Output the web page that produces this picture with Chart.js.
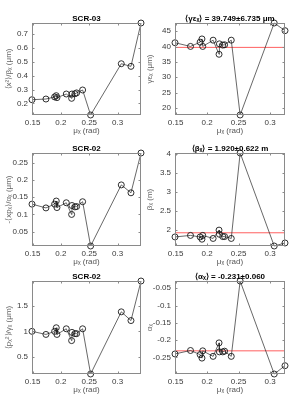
<!DOCTYPE html>
<html>
<head>
<meta charset="utf-8">
<script src="https://cdn.jsdelivr.net/npm/chart.js@4.4.0/dist/chart.umd.min.js"></script>
<style>
  body { margin: 0; background: #fff; width: 293px; height: 404px; position: relative; overflow: hidden; }
  canvas { position: absolute; }
</style>
</head>
<body>
<canvas id="scr03Emit" width="146" height="136" style="left:0px;top:0px"></canvas>
<canvas id="gammaEps" width="150" height="136" style="left:143px;top:0px"></canvas>
<canvas id="scr02Xp" width="146" height="137" style="left:0px;top:130px"></canvas>
<canvas id="betaX" width="150" height="137" style="left:143px;top:130px"></canvas>
<canvas id="scr02P" width="146" height="137" style="left:0px;top:258px"></canvas>
<canvas id="alphaX" width="150" height="137" style="left:143px;top:258px"></canvas>
<script>
// phase advance (rad), same scan points for every panel
let muX = [0.149, 0.1736, 0.1889, 0.1918, 0.193, 0.2095, 0.2189, 0.2195, 0.2248, 0.2277, 0.2383, 0.2524, 0.3065, 0.3236, 0.3413]

// left column, one value per muX
let emitScr03 = [0.227, 0.232, 0.247, 0.256, 0.242, 0.268, 0.237, 0.268, 0.270, 0.276, 0.297, 0.117, 0.486, 0.467, 0.779]
let xpScr02 = [0.130, 0.119, 0.130, 0.139, 0.120, 0.134, 0.100, 0.126, 0.122, 0.123, 0.137, 0.008, 0.186, 0.163, 0.279]
let pScr02 = [1.00, 0.94, 1.00, 1.07, 0.94, 1.05, 0.82, 0.98, 0.955, 0.955, 1.05, 0.17, 1.38, 1.21, 1.98]

// right column, first 14 points only
let gammaEps = [41.26, 40.06, 41.45, 42.5, 40.06, 42.1, 37.5, 40.9, 40.5, 40.6, 42.1, 17.7, 47.7, 45.2]
let betaX = [1.81, 1.85, 1.81, 1.75, 1.85, 1.77, 1.99, 1.88, 1.82, 1.82, 1.77, 4.03, 1.57, 1.65]
let alphaX = [-0.240, -0.230, -0.242, -0.252, -0.231, -0.247, -0.208, -0.234, -0.234, -0.232, -0.247, -0.029, -0.298, -0.274]

let gammaMean = 39.749
let betaMean = 1.920
let alphaMean = -0.231

// tick labels
let xTicks = [0.15, 0.2, 0.25, 0.3]
let emitTicks = [0.2, 0.3, 0.4, 0.5, 0.6, 0.7]
let xpTicks = [0.05, 0.1, 0.15, 0.2, 0.25]
let pTicks = [0.5, 1, 1.5]
let gammaTicks = [20, 25, 30, 35, 40, 45]
let betaTicks = [2, 2.5, 3, 3.5, 4]
let alphaTicks = [-0.25, -0.2, -0.15, -0.1, -0.05]

Chart.defaults.font.family = "'Liberation Sans', Arial, sans-serif"
Chart.defaults.font.size = 8
Chart.defaults.color = '#333'

// matlab style box with inward ticks, title centred over the axes
const boxPlugin = {
    id: 'box',
    afterDraw(chart, args, opts) {
        const ctx = chart.ctx
        const a = chart.chartArea
        const l = Math.round(a.left) + 0.5, r = Math.round(a.right) - 0.5
        const t = Math.round(a.top) + 0.5, b = Math.round(a.bottom) - 0.5
        ctx.save()
        ctx.strokeStyle = '#8a8a8a'
        ctx.lineWidth = 1
        ctx.strokeRect(l, t, r - l, b - t)
        ctx.beginPath()
        chart.scales.x.ticks.forEach(function(tk) {
            let px = Math.round(chart.scales.x.getPixelForValue(tk.value)) + 0.5
            ctx.moveTo(px, b); ctx.lineTo(px, b - 2)
            ctx.moveTo(px, t); ctx.lineTo(px, t + 2)
        })
        chart.scales.y.ticks.forEach(function(tk) {
            let py = Math.round(chart.scales.y.getPixelForValue(tk.value)) + 0.5
            ctx.moveTo(l, py); ctx.lineTo(l + 2, py)
            ctx.moveTo(r, py); ctx.lineTo(r - 2, py)
        })
        ctx.stroke()
        ctx.fillStyle = '#000'
        ctx.font = "bold 8px 'Liberation Sans', Arial, sans-serif"
        ctx.textAlign = 'center'
        ctx.textBaseline = 'alphabetic'
        ctx.fillText(opts.title, (a.left + a.right) / 2, a.top - 2.5)
        ctx.restore()
    }
}

function fmt(v) {
    return String(+v.toFixed(3))
}

function drawPanel(id, xs, ys, cfg) {
    let pts = ys.map(function(y, i) { return {x: xs[i], y: y} })
    let xmin = Math.min(...xs.slice(0, ys.length))
    let xmax = Math.max(...xs.slice(0, ys.length))
    let datasets = [{
        data: pts,
        showLine: true,
        borderColor: '#262626',
        borderWidth: 0.7,
        pointRadius: 3,
        pointBorderWidth: 0.9,
        pointBorderColor: '#1a1a1a',
        pointBackgroundColor: 'rgba(0,0,0,0)',
        clip: false
    }]
    if (cfg.mean !== undefined) {
        datasets.push({
            data: [{x: xmin, y: cfg.mean}, {x: xmax, y: cfg.mean}],
            showLine: true,
            borderColor: '#ff6060',
            borderWidth: 1,
            pointRadius: 0
        })
    }
    new Chart(document.getElementById(id), {
        type: 'scatter',
        data: { datasets: datasets },
        options: {
            responsive: false,
            animation: false,
            devicePixelRatio: 1,
            layout: { padding: { top: 23, right: cfg.right, left: 0, bottom: 0 } },
            plugins: {
                legend: { display: false },
                tooltip: { enabled: false },
                box: { title: cfg.title }
            },
            scales: {
                x: {
                    type: 'linear',
                    min: xmin,
                    max: xmax,
                    grid: { display: false, drawTicks: false },
                    border: { display: false },
                    afterBuildTicks: function(s) { s.ticks = xTicks.map(function(v) { return {value: v} }) },
                    afterFit: function(s) { s.height = 21 },
                    ticks: { padding: 3, maxRotation: 0, autoSkip: false, callback: fmt, color: '#3a3a3a' },
                    title: { display: true, text: 'μₓ (rad)', padding: 0, color: '#555' }
                },
                y: {
                    type: 'linear',
                    min: Math.min(...ys),
                    max: Math.max(...ys),
                    grid: { display: false, drawTicks: false },
                    border: { display: false },
                    afterBuildTicks: function(s) { s.ticks = cfg.ticks.map(function(v) { return {value: v} }) },
                    afterFit: function(s) { s.width = 32 },
                    ticks: { padding: 4, autoSkip: false, callback: fmt, color: '#3a3a3a' },
                    title: { display: true, text: cfg.ylabel, padding: { top: cfg.ypad, bottom: 0 }, color: '#666' }
                }
            }
        },
        plugins: [boxPlugin]
    })
}

drawPanel('scr03Emit', muX, emitScr03, { title: 'SCR-03', ylabel: '⟨x²⟩/βₓ (μm)', ticks: emitTicks, right: 5, ypad: 4 })
drawPanel('gammaEps', muX, gammaEps, { title: '⟨γεₓ⟩ = 39.749±6.735 μm', ylabel: 'γεₓ (μm)', ticks: gammaTicks, right: 8, ypad: 2, mean: gammaMean })
drawPanel('scr02Xp', muX, xpScr02, { title: 'SCR-02', ylabel: '-⟨xpₓ⟩/αₓ (μm)', ticks: xpTicks, right: 5, ypad: 4 })
drawPanel('betaX', muX, betaX, { title: '⟨βₓ⟩ = 1.920±0.622 m', ylabel: 'βₓ (m)', ticks: betaTicks, right: 8, ypad: 2, mean: betaMean })
drawPanel('scr02P', muX, pScr02, { title: 'SCR-02', ylabel: '⟨pₓ²⟩/γₓ (μm)', ticks: pTicks, right: 5, ypad: 4 })
drawPanel('alphaX', muX, alphaX, { title: '⟨αₓ⟩ = -0.231±0.060', ylabel: 'αₓ', ticks: alphaTicks, right: 8, ypad: 2, mean: alphaMean })
</script>
</body>
</html>
